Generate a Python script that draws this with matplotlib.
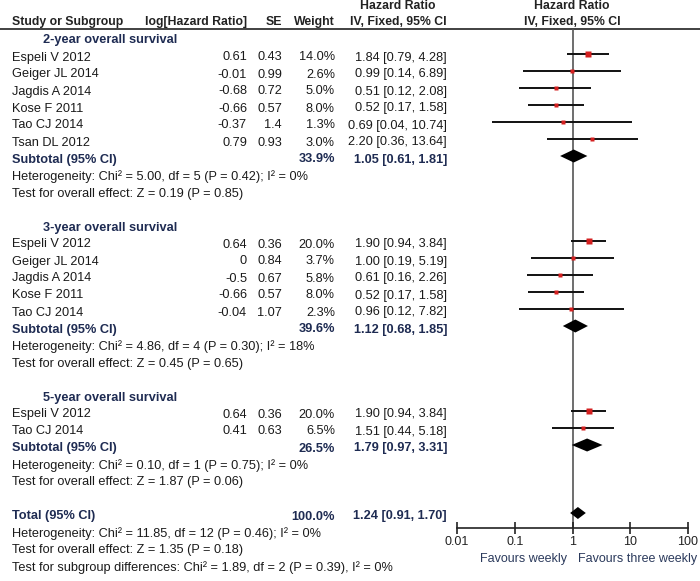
import numpy as np
import matplotlib
matplotlib.use("Agg")
import matplotlib.pyplot as plt

# ---- data ----
groups = ["2-year overall survival", "3-year overall survival", "5-year overall survival"]

studies_2y = ["Espeli V 2012", "Geiger JL 2014", "Jagdis A 2014", "Kose F 2011", "Tao CJ 2014", "Tsan DL 2012"]
loghr_2y = [0.61, -0.01, -0.68, -0.66, -0.37, 0.79]
se_2y = [0.43, 0.99, 0.72, 0.57, 1.4, 0.93]
weight_2y = [14.0, 2.6, 5.0, 8.0, 1.3, 3.0]
hr_2y = [1.84, 0.99, 0.51, 0.52, 0.69, 2.20]
lo_2y = [0.79, 0.14, 0.12, 0.17, 0.04, 0.36]
hi_2y = [4.28, 6.89, 2.08, 1.58, 10.74, 13.64]

studies_3y = ["Espeli V 2012", "Geiger JL 2014", "Jagdis A 2014", "Kose F 2011", "Tao CJ 2014"]
loghr_3y = [0.64, 0, -0.5, -0.66, -0.04]
se_3y = [0.36, 0.84, 0.67, 0.57, 1.07]
weight_3y = [20.0, 3.7, 5.8, 8.0, 2.3]
hr_3y = [1.90, 1.00, 0.61, 0.52, 0.96]
lo_3y = [0.94, 0.19, 0.16, 0.17, 0.12]
hi_3y = [3.84, 5.19, 2.26, 1.58, 7.82]

studies_5y = ["Espeli V 2012", "Tao CJ 2014"]
loghr_5y = [0.64, 0.41]
se_5y = [0.36, 0.63]
weight_5y = [20.0, 6.5]
hr_5y = [1.90, 1.51]
lo_5y = [0.94, 0.44]
hi_5y = [3.84, 5.18]

sub_weight = [33.9, 39.6, 26.5]
sub_hr = [1.05, 1.12, 1.79]
sub_lo = [0.61, 0.68, 0.97]
sub_hi = [1.81, 1.85, 3.31]
sub_het = ["Chi\u00b2 = 5.00, df = 5 (P = 0.42); I\u00b2 = 0%",
           "Chi\u00b2 = 4.86, df = 4 (P = 0.30); I\u00b2 = 18%",
           "Chi\u00b2 = 0.10, df = 1 (P = 0.75); I\u00b2 = 0%"]
sub_z = ["Z = 0.19 (P = 0.85)", "Z = 0.45 (P = 0.65)", "Z = 1.87 (P = 0.06)"]

total_weight = 100.0
total_hr, total_lo, total_hi = 1.24, 0.91, 1.70
total_het = "Chi\u00b2 = 11.85, df = 12 (P = 0.46); I\u00b2 = 0%"
total_z = "Z = 1.35 (P = 0.18)"
subgroup_diff = "Chi\u00b2 = 1.89, df = 2 (P = 0.39), I\u00b2 = 0%"

tick_vals = [0.01, 0.1, 1, 10, 100]
tick_labels = ["0.01", "0.1", "1", "10", "100"]

# ---- layout (pixels) ----
W, H = 700, 581
ROW0 = 37       # y of first row (group header)
DY = 17         # row height
TXT_OFF = 3.5   # text sits a little below the marker line
LEFT = 12
NAVY = "#1e2b52"
TXT = "#1a1a1a"
FONT = "Liberation Sans"

fig = plt.figure(figsize=(W / 100, H / 100), dpi=100)
tab = fig.add_axes([0, 0, 1, 1])
tab.set_xlim(0, W)
tab.set_ylim(H, 0)
tab.axis("off")

ax = fig.add_axes([457 / W, (H - 528) / H, 231 / W, (528 - 29) / H])
ax.set_xscale("log")
ax.set_xlim(0.01, 100)
ax.set_ylim(528, 29)


def t(x, y, s, ha="left", bold=False, color=TXT):
    tab.text(x, y + TXT_OFF, s, ha=ha, va="center", fontsize=9.2, family=FONT,
             fontweight="bold" if bold else "normal", color=color)


def hdr(x, y, s, ha):
    tab.text(x, y, s, ha=ha, va="center", fontsize=8.8, family=FONT,
             fontweight="bold", color="#222222")


# header
hdr(LEFT, 22, "Study or Subgroup", "left")
hdr(247, 22, "log[Hazard Ratio]", "right")
hdr(282, 22, "SE", "right")
hdr(335, 22, "Weight", "right")
hdr(398, 22, "IV, Fixed, 95% CI", "center")
hdr(398, 6, "Hazard Ratio", "center")
hdr(572, 22, "IV, Fixed, 95% CI", "center")
hdr(572, 6, "Hazard Ratio", "center")
tab.plot([0, W], [29, 29], color="#333333", lw=1.3)

data = [
    (studies_2y, loghr_2y, se_2y, weight_2y, hr_2y, lo_2y, hi_2y),
    (studies_3y, loghr_3y, se_3y, weight_3y, hr_3y, lo_3y, hi_3y),
    (studies_5y, loghr_5y, se_5y, weight_5y, hr_5y, lo_5y, hi_5y),
]

row = 0
for g, (names, lhr, se, wt, hr, lo, hi) in enumerate(data):
    y = ROW0 + row * DY
    t(43, y, groups[g], bold=True, color=NAVY)
    row += 1
    for i in range(len(names)):
        y = ROW0 + row * DY
        t(LEFT, y, names[i])
        t(247, y, f"{lhr[i]:g}", ha="right")
        t(282, y, f"{se[i]:g}", ha="right")
        t(335, y, f"{wt[i]:.1f}%", ha="right")
        t(447, y, f"{hr[i]:.2f} [{lo[i]:.2f}, {hi[i]:.2f}]", ha="right")
        ax.plot([lo[i], hi[i]], [y, y], color="#111111", lw=1.4, solid_capstyle="butt")
        # box size grows with study weight
        side = max(1.45 * np.sqrt(wt[i]), 3.4)
        ax.plot(hr[i], y, "s", ms=side * 0.72, color="#d42020", mec="none", zorder=3)
        row += 1
    y = ROW0 + row * DY
    t(LEFT, y, "Subtotal (95% CI)", bold=True, color=NAVY)
    t(335, y, f"{sub_weight[g]:.1f}%", ha="right", bold=True, color=NAVY)
    t(447, y, f"{sub_hr[g]:.2f} [{sub_lo[g]:.2f}, {sub_hi[g]:.2f}]", ha="right", bold=True, color=NAVY)
    ax.fill([sub_lo[g], sub_hr[g], sub_hi[g], sub_hr[g]], [y, y - 6.5, y, y + 6.5],
            color="black", lw=0, zorder=3)
    row += 1
    t(LEFT, ROW0 + row * DY, "Heterogeneity: " + sub_het[g])
    row += 1
    t(LEFT, ROW0 + row * DY, "Test for overall effect: " + sub_z[g])
    row += 2

y = ROW0 + row * DY
t(LEFT, y, "Total (95% CI)", bold=True, color=NAVY)
t(335, y, f"{total_weight:.1f}%", ha="right", bold=True, color=NAVY)
t(447, y, f"{total_hr:.2f} [{total_lo:.2f}, {total_hi:.2f}]", ha="right", bold=True, color=NAVY)
ax.fill([total_lo, total_hr, total_hi, total_hr], [y, y - 6, y, y + 6],
        color="black", lw=0, zorder=3)
row += 1
t(LEFT, ROW0 + row * DY, "Heterogeneity: " + total_het)
row += 1
t(LEFT, ROW0 + row * DY, "Test for overall effect: " + total_z)
row += 1
t(LEFT, ROW0 + row * DY, "Test for subgroup differences: " + subgroup_diff)

# forest axis
ax.axvline(1, color="#555555", lw=1.2, zorder=1)
for s in ["top", "left", "right"]:
    ax.spines[s].set_visible(False)
ax.spines["bottom"].set_color("#222222")
ax.spines["bottom"].set_linewidth(1.2)
ax.set_xticks(tick_vals)
ax.set_xticklabels(tick_labels)
ax.minorticks_off()
ax.tick_params(axis="x", direction="inout", length=8, width=1.2, pad=2,
               labelsize=9, colors="#222222")
for lab in ax.get_xticklabels():
    lab.set_family(FONT)
ax.set_yticks([])
ax.patch.set_visible(False)

tab.text(567, 559, "Favours weekly", ha="right", va="center", fontsize=9,
         family=FONT, color="#2b3a5c")
tab.text(578, 559, "Favours three weekly", ha="left", va="center", fontsize=9,
         family=FONT, color="#2b3a5c")

fig.savefig("out.png", dpi=100)
